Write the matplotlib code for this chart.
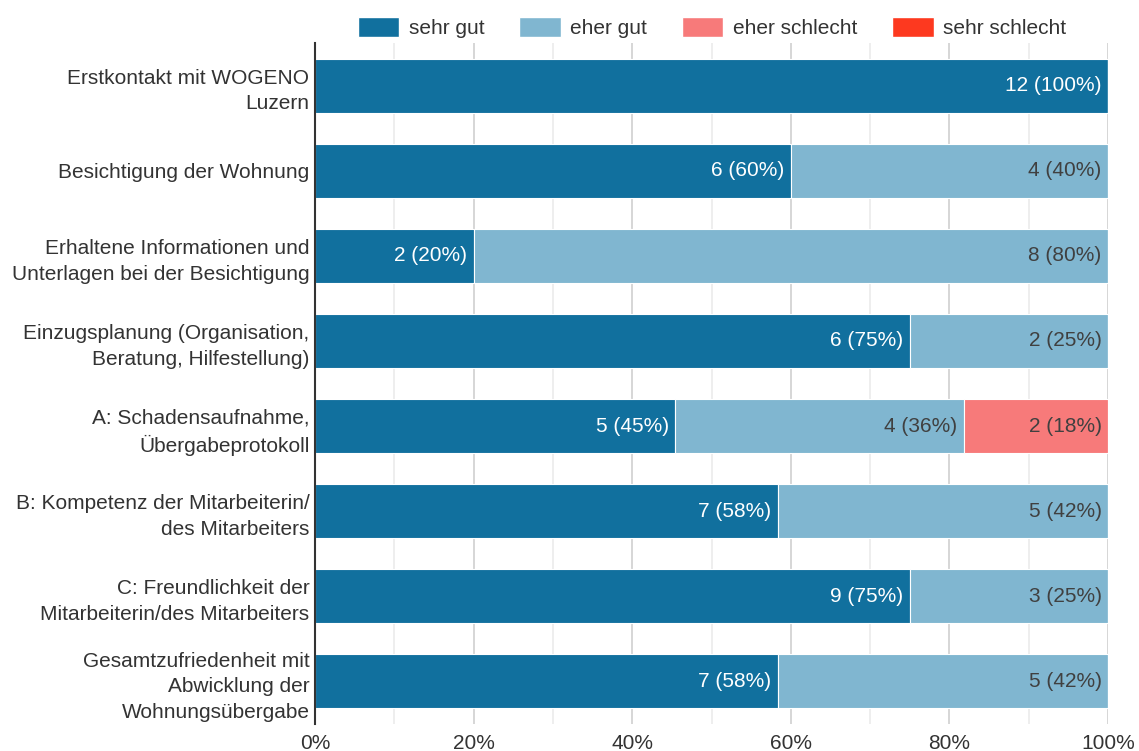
import numpy as np
import matplotlib
matplotlib.use("Agg")
from matplotlib import pyplot as plt
from matplotlib.patches import Patch
from matplotlib.ticker import MultipleLocator, FuncFormatter

plt.rcParams['font.family'] = ['Liberation Sans', 'DejaVu Sans']

categories = [
    "Erstkontakt mit WOGENO\nLuzern",
    "Besichtigung der Wohnung",
    "Erhaltene Informationen und\nUnterlagen bei der Besichtigung",
    "Einzugsplanung (Organisation,\nBeratung, Hilfestellung)",
    "A: Schadensaufnahme,\nÜbergabeprotokoll",
    "B: Kompetenz der Mitarbeiterin/\ndes Mitarbeiters",
    "C: Freundlichkeit der\nMitarbeiterin/des Mitarbeiters",
    "Gesamtzufriedenheit mit\nAbwicklung der\nWohnungsübergabe",
]
series = ["sehr gut", "eher gut", "eher schlecht", "sehr schlecht"]
sehr_gut = [12, 6, 2, 6, 5, 7, 9, 7]
eher_gut = [0, 4, 8, 2, 4, 5, 3, 5]
eher_schlecht = [0, 0, 0, 0, 2, 0, 0, 0]
sehr_schlecht = [0, 0, 0, 0, 0, 0, 0, 0]

colors = ["#11709e", "#80b6d0", "#f77a7a", "#fd391f"]
text_colors = ["white", "#404040", "#404040", "white"]

counts = np.array([sehr_gut, eher_gut, eher_schlecht, sehr_schlecht], dtype=float)
totals = counts.sum(axis=0)
pct = counts / totals * 100

fig = plt.figure(figsize=(11.39, 7.51), dpi=100)
ax = fig.add_axes([0.2766, 0.036, 0.6962, 0.9067])

y = np.arange(len(categories))
left = np.zeros(len(categories))
for i, name in enumerate(series):
    ax.barh(y, pct[i], left=left, height=0.635, color=colors[i],
            edgecolor="white", linewidth=0.8, zorder=3)
    for j in range(len(categories)):
        if counts[i, j] > 0:
            ax.text(left[j] + pct[i, j] - 0.8, y[j],
                    "%d (%d%%)" % (counts[i, j], round(pct[i, j])),
                    ha="right", va="center", color=text_colors[i],
                    fontsize=15, zorder=4)
    left += pct[i]

ax.set_xlim(0, 100)
ax.set_ylim(len(categories) - 0.5, -0.5)
ax.set_yticks(y)
ax.set_yticklabels(categories, fontsize=15, color="#333333",
                   multialignment="right", linespacing=1.45)
ax.xaxis.set_major_locator(MultipleLocator(20))
ax.xaxis.set_minor_locator(MultipleLocator(10))
ax.xaxis.set_major_formatter(FuncFormatter(lambda v, p: "%d%%" % v))
ax.tick_params(axis="x", labelsize=15, labelcolor="#333333", length=0, which="both", pad=7)
ax.tick_params(axis="y", length=0, pad=4)
ax.grid(axis="x", which="major", color="#d0d0d0", linewidth=1.2, zorder=0)
ax.grid(axis="x", which="minor", color="#ebebeb", linewidth=1.2, zorder=0)
for s in ["top", "right", "bottom"]:
    ax.spines[s].set_visible(False)
ax.spines["left"].set_color("#333333")
ax.spines["left"].set_linewidth(1.5)
ax.spines["left"].set_zorder(5)

handles = [Patch(facecolor=c, edgecolor="white") for c in colors]
fig.legend(handles, series, loc="center", bbox_to_anchor=(0.625, 0.963),
           ncol=4, frameon=False, fontsize=15, handlelength=2.0, handleheight=1.1,
           columnspacing=1.67, handletextpad=0.45, labelcolor="#333333")

fig.savefig("out.png", dpi=100)
